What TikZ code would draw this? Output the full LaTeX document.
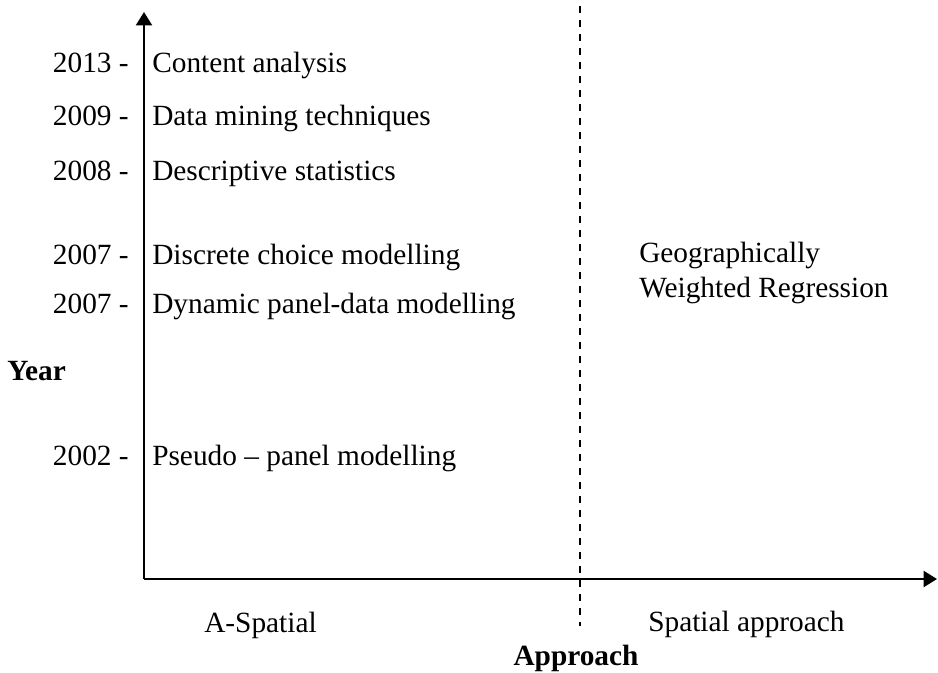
\documentclass[tikz,border=0pt]{standalone}
\usepackage{fontspec}
\setmainfont{Liberation Serif}
\usetikzlibrary{arrows.meta}

\tikzset{
  yeartxt/.style={anchor=base east, inner sep=0pt},
  methodtxt/.style={anchor=base west, inner sep=0pt},
  axistxt/.style={inner sep=0pt, font=\fontsize{22}{26}\selectfont\bfseries},
  axisline/.style={line width=1.5pt, -{Triangle[width=12pt,length=10pt]}},
}

\begin{document}
\begin{tikzpicture}[x=0.75pt, y=-0.75pt, font=\fontsize{22}{26}\selectfont]
    \useasboundingbox (0,0) rectangle (938,672);

    % Axes
    \coordinate (origin) at (144,579);
    \coordinate (ytop) at (144,12);
    \coordinate (xend) at (937,579);
    \draw[axisline] (origin) -- (ytop);
    \draw[axisline] (origin) -- (xend);

    % Divider between the two approaches
    \coordinate (divtop) at (580,6);
    \coordinate (divbot) at (580,626);
    \draw[line width=1.1pt, dash pattern=on 5.25pt off 5.25pt] (divtop) -- (divbot);

    % Years on the vertical axis
    \node[yeartxt] (y2013) at (129,72) {2013 -};
    \node[yeartxt] (y2009) at (129,125) {2009 -};
    \node[yeartxt] (y2008) at (129,180) {2008 -};
    \node[yeartxt] (y2007a) at (129,264) {2007 -};
    \node[yeartxt] (y2007b) at (129,313) {2007 -};
    \node[yeartxt] (y2002) at (129,465) {2002 -};

    % A-spatial methods
    \node[methodtxt] (content) at (152,72) {Content analysis};
    \node[methodtxt] (mining) at (152,125) {Data mining techniques};
    \node[methodtxt] (descr) at (152,180) {Descriptive statistics};
    \node[methodtxt] (choice) at (152,264) {Discrete choice modelling};
    \node[methodtxt] (dynpanel) at (152,313) {Dynamic panel-data modelling};
    \node[methodtxt] (pseudo) at (152,465) {Pseudo -- panel modelling};

    % Spatial method
    \node[methodtxt] (gwrA) at (639,262) {Geographically};
    \node[methodtxt] (gwrB) at (639,297) {Weighted Regression};

    % Axis titles
    \node[axistxt, anchor=base west] (yeartitle) at (7,380) {Year};
    \node[methodtxt] (aspatial) at (204,632) {A-Spatial};
    \node[methodtxt] (spatial) at (648,631) {Spatial approach};
    \node[axistxt, anchor=base] (approach) at (576,665) {Approach};
\end{tikzpicture}
\end{document}
